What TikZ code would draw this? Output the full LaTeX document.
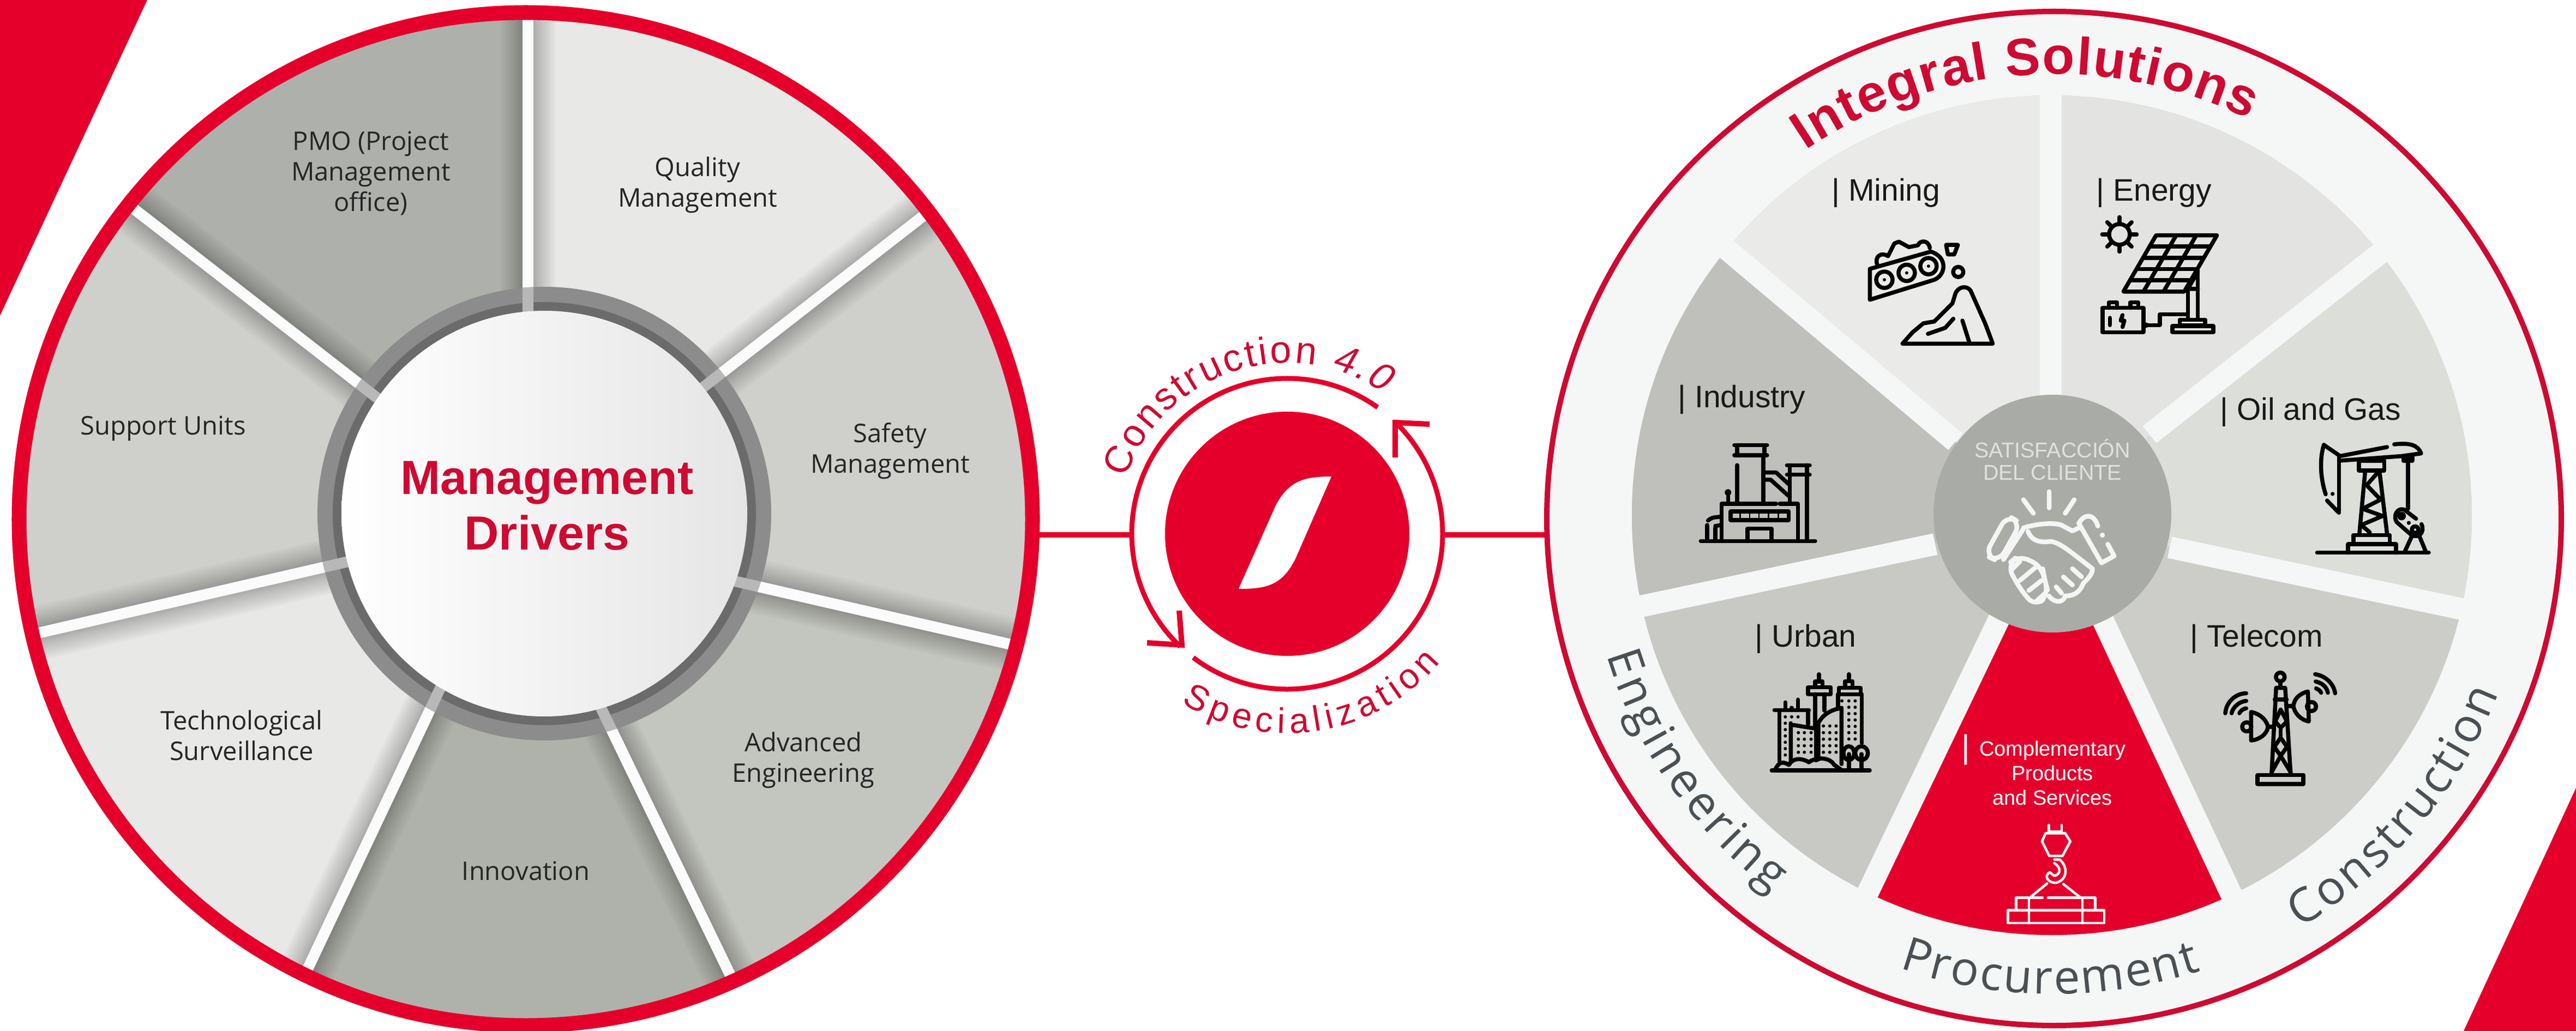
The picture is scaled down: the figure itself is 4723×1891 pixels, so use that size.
\documentclass[tikz,border=0pt]{standalone}
\usepackage{fontspec}
\setmainfont{Liberation Sans}
\newfontfamily\opensans{Open Sans}
\usetikzlibrary{calc,decorations.text}
\definecolor{brand}{HTML}{E4002B}
\definecolor{titlered}{HTML}{CE0A32}
\definecolor{wA}{HTML}{AEB1AB}
\definecolor{wB}{HTML}{E8E9E6}
\definecolor{wC}{HTML}{CFD0CC}
\definecolor{wD}{HTML}{C3C5BF}
\definecolor{wE}{HTML}{AFB2AA}
\definecolor{rimfill}{HTML}{F5F6F6}
\definecolor{mA}{HTML}{EAEBE9}
\definecolor{mB}{HTML}{E3E4E1}
\definecolor{mC}{HTML}{DCDEDA}
\definecolor{mD}{HTML}{CCCDC8}
\definecolor{mE}{HTML}{C8C9C5}
\definecolor{mF}{HTML}{BFC0BB}
\definecolor{hubgray}{HTML}{A9ACA6}
\definecolor{darktext}{HTML}{4A5054}
\tikzset{
  drvlabel/.style={font=\opensans\fontsize{13.4}{15.9}\selectfont,text=black!85,align=center,inner sep=0pt},
  seclabel/.style={font=\fontsize{16.2}{18}\selectfont,text=black!90,anchor=west,inner sep=0pt},
  iconzone/.style={shift={#1},x=.003333cm,y=-.003333cm},
  iconblack/.style={draw=black,line width=.075cm,line join=round,line cap=round,fill=none},
  iconthin/.style={draw=white,line width=.045cm,line join=round,line cap=round,fill=none},
  iconhand/.style={draw=white!92!gray,line width=.085cm,line join=round,line cap=round,fill=none},
}
\begin{document}
\begin{tikzpicture}[x=.01cm,y=-.01cm]
\useasboundingbox (0,0) rectangle (4723,1891);
\fill[white] (0,0) rectangle (4723,1891);
% corners
\fill[brand] (0,0) -- (270,0) -- (0,579) -- cycle;
\fill[brand] (4723,1445) -- (4723,1891) -- (4517,1891) -- cycle;
% left wheel
\coordinate (H) at (998,942);
\coordinate (W) at (964,952);
\coordinate (a1) at (968,567);  \coordinate (b1) at (968,36);
\coordinate (a2) at (1318,688); \coordinate (b2) at (1698,392);
\coordinate (a3) at (1356,1068);\coordinate (b3) at (1853,1182);
\coordinate (a4) at (1107,1309);\coordinate (b4) at (1343,1797);
\coordinate (a5) at (802,1273); \coordinate (b5) at (566,1773);
\coordinate (a6) at (634,1031); \coordinate (b6) at (75,1160);
\coordinate (a7) at (684,724);  \coordinate (b7) at (257,392);
\begin{scope}
\clip (W) circle (925);
\fill[wC] (W) circle (925);
\fill[wB] (H) -- (a1) -- ($(a1)!1.3!(b1)$) -- (2100,-200) -- ($(a2)!1.3!(b2)$) -- (a2) -- cycle;
\fill[wC] (H) -- (a2) -- ($(a2)!1.3!(b2)$) -- (2400,700) -- ($(a3)!1.3!(b3)$) -- (a3) -- cycle;
\fill[wD] (H) -- (a3) -- ($(a3)!1.3!(b3)$) -- (1800,2300) -- ($(a4)!1.3!(b4)$) -- (a4) -- cycle;
\fill[wE] (H) -- (a4) -- ($(a4)!1.3!(b4)$) -- (964,2500) -- ($(a5)!1.3!(b5)$) -- (a5) -- cycle;
\fill[wB] (H) -- (a5) -- ($(a5)!1.3!(b5)$) -- (-400,2000) -- ($(a6)!1.3!(b6)$) -- (a6) -- cycle;
\fill[wC] (H) -- (a6) -- ($(a6)!1.3!(b6)$) -- (-400,400) -- ($(a7)!1.3!(b7)$) -- (a7) -- cycle;
\fill[wA] (H) -- (a7) -- ($(a7)!1.3!(b7)$) -- (300,-500) -- ($(a1)!1.3!(b1)$) -- (a1) -- cycle;
\foreach \i in {1,...,7}{
  \foreach \w in {1.0,.92,.84,.76,.68,.60,.52,.45,.38,.32,.27}{
    \draw[black,opacity=.022,line width=\w cm] ($(a\i)!-.1!(b\i)$) -- ($(a\i)!1.2!(b\i)$);
  }
  \draw[white!97!gray,line width=.2cm] (a\i) -- ($(a\i)!1.2!(b\i)$);
}
\end{scope}
\draw[brand,line width=.27cm] (W) circle (929);
% ring
\fill[black!45] (H) circle (416);
\draw[black!58,line width=.16cm] (H) circle (380);
\begin{scope}
\clip (H) circle (416);
\foreach \i in {1,...,7}{
  \draw[black!28,line width=.2cm] (a\i) -- ($(a\i)!-.2!(b\i)$) (a\i) -- ($(a\i)!.1!(b\i)$);
}
\end{scope}
\shade[left color=white,right color=black!10] (H) circle (372);
\node[font=\bfseries\fontsize{25}{29}\selectfont,text=titlered,align=center,inner sep=0pt] (lefttitle) at (1003,928) {Management\\Drivers};
\node[drvlabel] (lPMO) at (680,318) {PMO (Project\\Management\\office)};
\node[drvlabel] (lQual) at (1279,339) {Quality\\Management};
\node[drvlabel] (lSafe) at (1632,827) {Safety\\Management};
\node[drvlabel] (lAdv) at (1473,1394) {Advanced\\Engineering};
\node[drvlabel] (lInno) at (964,1597) {Innovation};
\node[drvlabel] (lTech) at (443,1349) {Technological\\Surveillance};
\node[drvlabel] (lSupp) at (299,786) {Support Units};
% centre emblem
\coordinate (E) at (2360,979);
\coordinate (linkA) at (1905,981);
\coordinate (linkB) at (2076,981);
\coordinate (linkC) at (2645,981);
\coordinate (linkD) at (2837,981);
\draw[brand,line width=.1cm] (linkA) -- (linkB);
\draw[brand,line width=.1cm] (linkC) -- (linkD);
\fill[brand] (E) circle (224);
\fill[white] (2271,1080) -- (2340,925) .. controls (2365,880) and (2395,874) .. (2441,874)
  -- (2375,1025) .. controls (2350,1075) and (2320,1080) .. (2271,1080) -- cycle;
\draw[brand,line width=.09cm] ([shift={(-54.4:285)}]E) arc (-54.4:-226.6:285);
\draw[brand,line width=.09cm] ([shift={(-232.8:285)}]E) arc (-232.8:-405.9:285);
\draw[brand,line width=.1cm,miter limit=4] (2621,778) -- (2558,775) -- (2558,839);
\draw[brand,line width=.1cm,miter limit=4] (2103,1179) -- (2167,1183) -- (2162,1120);
\path[decorate,decoration={text along path,text align=fit to path,text color=titlered,
  text={|\fontsize{20}{20}\selectfont|Construction |\fontsize{20}{20}\selectfont\addfontfeature{FakeSlant=0.2}|4.0||}}]
  ([shift={(-161:313)}]E) arc (-161:-56:313);
\path[decorate,decoration={text along path,text align=fit to path,text color=titlered,
  text={|\fontsize{18.5}{18.5}\selectfont|Specialization}}]
  ([shift={(-238:366)}]E) arc (-238:-320:366);
% right wheel
\coordinate (R) at (3766,951);
\coordinate (Q) at (3762,945);
\coordinate (G) at (3763,942);
\fill[rimfill] (R) circle (930);
\draw[titlered,line width=.1cm] (R) circle (930);
\coordinate (c1) at (3760,800); \coordinate (d1) at (3760,150);
\coordinate (c2) at (3941,797); \coordinate (d2) at (4358,469);
\coordinate (c3) at (3978,1004);\coordinate (d3) at (4518,1118);
\coordinate (c4) at (3855,1136);\coordinate (d4) at (4088,1634);
\coordinate (c5) at (3665,1136);\coordinate (d5) at (3426,1634);
\coordinate (c6) at (3548,998); \coordinate (d6) at (3009,1112);
\coordinate (c7) at (3585,810); \coordinate (d7) at (3168,459);
\begin{scope}
\clip (Q) circle (770);
\fill[mE] (Q) circle (770);
\fill[mB] (G) -- (c1) -- ($(c1)!1.3!(d1)$) -- (4800,-200) -- ($(c2)!1.3!(d2)$) -- (c2) -- cycle;
\fill[mC] (G) -- (c2) -- ($(c2)!1.3!(d2)$) -- (5000,700) -- ($(c3)!1.3!(d3)$) -- (c3) -- cycle;
\fill[mD] (G) -- (c3) -- ($(c3)!1.3!(d3)$) -- (5000,2200) -- ($(c4)!1.3!(d4)$) -- (c4) -- cycle;
\fill[brand] (G) -- (c4) -- ($(c4)!1.3!(d4)$) -- (3760,2400) -- ($(c5)!1.3!(d5)$) -- (c5) -- cycle;
\fill[mE] (G) -- (c5) -- ($(c5)!1.3!(d5)$) -- (2600,2200) -- ($(c6)!1.3!(d6)$) -- (c6) -- cycle;
\fill[mF] (G) -- (c6) -- ($(c6)!1.3!(d6)$) -- (2500,500) -- ($(c7)!1.3!(d7)$) -- (c7) -- cycle;
\fill[mA] (G) -- (c7) -- ($(c7)!1.3!(d7)$) -- (2900,-400) -- ($(c1)!1.3!(d1)$) -- (c1) -- cycle;
\end{scope}
\foreach \i in {1,...,7}{
  \draw[rimfill,line width=.4cm] (c\i) -- ($(c\i)!1.05!(d\i)$);
}
\fill[hubgray] (G) circle (218);
\node[font=\fontsize{11.2}{11.8}\selectfont,text=black!12,align=center,inner sep=0pt] (hubtext) at (3763,843) {SATISFACCIÓN\\DEL CLIENTE};
% curved labels
\path[decorate,decoration={text along path,text align=fit to path,text color=titlered,
  text={|\bfseries\fontsize{27.5}{27.5}\selectfont|Integral Solutions}}]
  ([shift={(-124:815)}]R) arc (-124:-64:815);
\path[decorate,decoration={text along path,text align=fit to path,text color=darktext,
  text={|\opensans\fontsize{24.5}{24.5}\selectfont|Engineering}}]
  ([shift={(-197:858)}]R) arc (-197:-233:858);
\path[decorate,decoration={text along path,text align=fit to path,text color=darktext,
  text={|\opensans\fontsize{24.5}{24.5}\selectfont|Procurement}}]
  ([shift={(-251:872)}]R) arc (-251:-288:872);
\path[decorate,decoration={text along path,text align=fit to path,text color=darktext,
  text={|\opensans\fontsize{24.5}{24.5}\selectfont|Construction}}]
  ([shift={(-301:876)}]R) arc (-301:-338.5:876);
% sector labels
\node[seclabel] (sMining) at (3358,354) {| Mining};
\node[seclabel] (sEnergy) at (3843,354) {| Energy};
\node[seclabel] (sIndustry) at (3076,733) {| Industry};
\node[seclabel] (sOil) at (4070,756) {| Oil and Gas};
\node[seclabel] (sUrban) at (3217,1172) {| Urban};
\node[seclabel] (sTelecom) at (4015,1172) {| Telecom};
\node[font=\fontsize{10.8}{12.8}\selectfont,text=white,align=center,inner sep=0pt] (sCompl) at (3763,1418) {Complementary\\Products\\and Services};
\node[font=\fontsize{17}{17}\selectfont,text=white,inner sep=0pt] (sBar) at (3604,1375) {|};
% mining icon
\begin{scope}[iconzone={(3400,390)}]
\draw[iconblack] (85,310) -- (85,480) -- (440,370) .. controls (510,340) and (510,240) .. (420,215) -- cycle;
\foreach \x/\y in {165/370,288/332,408/295}{
  \draw[iconblack] (\x,\y) circle (45);
  \fill (\x,\y) circle (9);
}
\draw[iconblack] (125,285) .. controls (110,240) and (150,215) .. (185,240) -- (220,170) -- (245,160) -- (300,190) -- (350,180) .. controls (360,150) and (410,150) .. (415,195);
\draw[iconblack] (505,178) -- (570,178) -- (550,230) -- (515,230) -- cycle;
\draw[iconblack] (572,327) circle (28);
\draw[iconblack] (265,722) -- (762,722) -- (720,610) -- (680,520) -- (640,430) .. controls (620,400) and (570,405) .. (555,450) -- (540,500) -- (480,560) -- (440,600) -- (380,610) -- (320,660) -- cycle;
\draw[iconblack] (405,668) -- (500,635) -- (545,585);
\draw[iconblack] (595,595) -- (635,722);
\end{scope}
% energy icon
\begin{scope}[iconzone={(3830,385)}]
\coordinate (pa) at (370,140); \coordinate (pb) at (705,140);
\coordinate (pc) at (525,450); \coordinate (pd) at (190,450);
\draw[iconblack] (168,135) circle (57);
\foreach \a in {0,45,...,315}{
  \draw[iconblack] ([shift={(\a:60)}]168,135) -- ([shift={(\a:95)}]168,135);
}
\draw[iconblack] (pa) -- (pb) -- (pc) -- (pd) -- cycle;
\foreach \t in {.2,.4,.6,.8}{ \draw[iconblack] ($(pa)!\t!(pd)$) -- ($(pb)!\t!(pc)$); }
\foreach \t in {.33,.66}{ \draw[iconblack] ($(pa)!\t!(pb)$) -- ($(pd)!\t!(pc)$); }
\draw[iconblack] (545,450) -- (545,600) (600,330) -- (600,600);
\draw[iconblack] (600,340) -- (545,435) -- (600,435);
\draw[iconblack] (500,605) rectangle (640,635);
\draw[iconblack] (460,640) rectangle (685,675);
\draw[iconblack] (75,540) rectangle (300,675);
\draw[iconblack] (110,540) -- (110,510) -- (155,510) -- (155,540);
\draw[iconblack] (228,540) -- (228,510) -- (272,510) -- (272,540);
\draw[iconblack] (115,595) -- (115,635);
\draw[iconblack] (185,580) -- (175,610) -- (195,610) -- (185,645);
\draw[iconblack] (315,635) -- (390,635) -- (390,575) -- (545,575);
\fill (315,635) circle (15);
\end{scope}
% industry icon
\begin{scope}[iconzone={(3100,800)}]
\draw[iconblack] (55,578) -- (685,578);
\draw[iconblack] (170,578) -- (170,372) -- (470,372) (490,372) -- (590,372) -- (590,578);
\draw[iconblack] (220,415) rectangle (540,462);
\foreach \x in {272,324,376,428,482}{ \fill (\x-4,425) rectangle (\x+4,452); }
\draw[iconblack] (312,578) -- (312,510) -- (445,510) -- (445,578);
\draw[iconblack] (255,160) -- (255,372) (400,105) -- (400,372);
\draw[iconblack] (240,50) -- (420,50) (240,105) -- (420,105) (255,50) -- (255,105) (405,50) -- (405,105);
\draw[iconblack] (545,215) -- (545,372) (640,215) -- (640,578);
\draw[iconblack] (530,160) -- (655,160) (530,212) -- (655,212) (545,160) -- (545,212) (640,160) -- (640,212);
\draw[iconblack] (405,200) -- (470,200) -- (545,270);
\draw[iconblack] (405,240) -- (440,240) -- (545,335);
\draw[iconblack] (205,372) -- (205,320);
\fill (205,310) circle (18);
\draw[iconblack] (90,578) -- (90,490) (135,578) -- (135,505);
\draw[iconblack] (95,465) .. controls (110,450) and (130,445) .. (165,445);
\draw[iconblack] (135,495) -- (165,490);
\end{scope}
% oil icon
\begin{scope}[iconzone={(4240,800)}]
\draw[iconblack] (25,642) -- (640,642);
\draw[iconblack] (195,642) -- (195,595) -- (460,595) -- (460,642);
\draw[iconblack] (225,595) -- (225,545) -- (425,545) -- (425,595);
\draw[iconblack] (258,535) -- (290,190) (410,535) -- (368,190);
\draw[iconblack] (355,205) -- (298,270) -- (375,350) -- (275,400) -- (385,440) -- (268,490) -- (315,530);
\draw[iconblack] (255,135) rectangle (395,190);
\draw[iconblack] (150,110) -- (410,60);
\draw[iconblack] (150,135) -- (490,110) -- (598,95) .. controls (580,50) and (540,35) .. (450,45);
\draw[iconblack] (145,105) -- (145,420);
\draw[iconblack] (62,48) -- (145,105);
\draw[iconblack] (62,48) .. controls (40,120) and (40,220) .. (72,320);
\draw[iconblack] (80,355) -- (145,422);
\fill (110,318) circle (11);
\draw[iconblack] (525,120) -- (525,400);
\draw[iconblack] (500,115) rectangle (550,135);
\draw[iconblack] (570,455) -- (505,405) .. controls (465,390) and (440,445) .. (465,475) -- (545,545) .. controls (585,565) and (620,530) .. (600,485);
\fill (490,440) circle (24);
\fill (530,478) circle (11);
\draw[iconblack] (565,515) circle (18);
\draw[iconblack] (510,632) -- (545,555) (622,632) -- (590,555);
\end{scope}
% urban icon
\begin{scope}[iconzone={(3220,1220)}]
\draw[iconblack] (85,580) -- (625,580);
\draw[iconblack] (100,248) -- (290,248) (160,248) -- (160,205) (195,248) -- (195,235) (230,248) -- (230,190);
\draw[iconblack] (128,248) -- (128,530) (285,248) -- (285,325);
\draw[iconblack] (190,320) -- (190,535) (205,330) -- (330,350) -- (330,525);
\draw[iconblack] (342,520) -- (342,320) .. controls (370,265) and (420,245) .. (470,235) -- (470,545);
\draw[iconblack] (325,345) -- (325,160) (375,160) -- (375,250);
\draw[iconblack] (285,122) rectangle (410,160);
\draw[iconblack] (325,90) rectangle (365,122);
\draw[iconblack] (345,50) -- (345,90);
\draw[iconblack] (455,125) rectangle (575,160);
\draw[iconblack] (450,160) -- (450,240) (582,160) -- (582,430);
\draw[iconblack] (490,88) rectangle (530,125);
\draw[iconblack] (510,50) -- (510,88);
\draw[iconblack] (510,485) ellipse (30 and 38);
\draw[iconblack] (580,485) ellipse (35 and 38);
\draw[iconblack] (510,490) -- (510,580) (580,490) -- (580,580);
\draw[iconblack] (105,575) .. controls (125,530) and (150,530) .. (180,550) .. controls (200,510) and (250,510) .. (290,535) .. controls (320,510) and (400,500) .. (430,550) -- (470,578);
\foreach \y in {285,320,355,390,425,460,495}{ \fill (160,\y) circle (9); }
\fill (195,285) circle (9); \fill (230,285) circle (9);
\foreach \x in {232,265,302}\foreach \y in {372,408,444,480}{ \fill (\x,\y) circle (9); }
\foreach \x in {370,405,440}\foreach \y in {335,372,408,444,480}{ \fill (\x,\y) circle (9); }
\foreach \x in {510,545}\foreach \y in {197,232,267,302,337,372,407}{ \fill (\x,\y) circle (9); }
\fill (472,197) circle (9);
\end{scope}
% telecom icon
\begin{scope}[iconzone={(4050,1220)}]
\draw[iconblack] (345,600) -- (370,125) -- (420,125) -- (450,600);
\draw[iconblack] (393,65) circle (24);
\draw[iconblack] (393,90) -- (393,125);
\draw[iconblack] (362,190) -- (428,190);
\draw[iconblack] (395,245) -- (365,310) -- (395,345) -- (430,310) -- cycle;
\draw[iconblack] (395,400) -- (360,450) -- (395,500) -- (430,450) -- cycle;
\draw[iconblack] (395,500) -- (345,590) (395,500) -- (450,590);
\draw[iconblack] (395,345) -- (395,400);
\draw[iconblack] (268,605) rectangle (520,655);
\draw[iconblack] (545,145) .. controls (490,160) and (470,190) .. (465,225) .. controls (470,260) and (500,300) .. (550,310) -- cycle;
\draw[iconblack] (565,228) circle (25);
\draw[iconblack] (430,225) -- (465,225);
\draw[iconblack] (232,258) .. controls (290,270) and (320,310) .. (325,340) .. controls (320,380) and (280,410) .. (232,415) -- cycle;
\draw[iconblack] (208,340) circle (25);
\draw[iconblack] (325,340) -- (345,340);
\draw[iconblack] (585,50) .. controls (650,60) and (690,110) .. (695,155);
\draw[iconblack] (588,90) .. controls (630,100) and (650,125) .. (655,152);
\draw[iconblack] (590,128) .. controls (605,135) and (615,142) .. (618,152);
\draw[iconblack] (205,155) .. controls (150,155) and (95,200) .. (90,265);
\draw[iconblack] (205,197) .. controls (165,200) and (130,235) .. (125,265);
\draw[iconblack] (205,238) .. controls (185,240) and (172,255) .. (168,265);
\end{scope}
% crane icon
\begin{scope}[iconzone={(3660,1500)}]
\draw[iconthin] (290,40) -- (290,75) -- (360,75) -- (360,40);
\draw[iconthin] (272,85) -- (380,85) -- (408,130) -- (365,210) -- (292,210) -- (252,130) -- cycle;
\draw[iconthin] (320,230) -- (350,230) .. controls (395,270) and (395,340) .. (330,358) .. controls (285,360) and (260,320) .. (295,300) -- (320,320) .. controls (360,310) and (355,270) .. (320,250);
\draw[iconthin] (280,362) -- (185,440) (370,365) -- (465,440);
\draw[iconthin] (110,505) -- (110,440) -- (255,440) (285,440) -- (545,440) -- (545,505);
\draw[iconthin] (65,510) rectangle (595,580);
\draw[iconthin] (180,440) -- (180,580) (475,440) -- (475,580);
\end{scope}
% handshake icon
\begin{scope}[iconzone={(3620,880)}]
\draw[iconhand] (270,110) -- (325,185) (412,65) -- (412,155) (550,110) -- (500,185);
\draw[iconhand,rounded corners=.2cm] (180,195) -- (255,238) -- (135,452) -- (58,415) -- cycle;
\draw[iconhand] (680,255) .. controls (660,190) and (610,180) .. (575,240) -- (700,458) -- (770,420) -- (735,355);
\fill[white!92!gray] (705,305) circle (14);
\draw[iconhand] (270,265) .. controls (350,240) and (440,235) .. (480,250) -- (540,282) -- (575,265);
\draw[iconhand] (295,285) .. controls (320,345) and (370,345) .. (420,340) .. controls (470,345) and (520,390) .. (650,490) .. controls (650,520) and (630,540) .. (600,570) .. controls (580,620) and (550,640) .. (500,640) .. controls (490,680) and (440,680) .. (410,640);
\draw[iconhand] (270,270) -- (160,440);
\draw[iconhand,rounded corners=.2cm] (180,470) -- (245,415) -- (375,480) -- (385,550) -- (410,630) -- (335,700) -- (250,600) -- cycle;
\draw[iconhand] (250,450) -- (205,495) (340,480) -- (250,555) (370,555) -- (300,610) (390,625) -- (340,670);
\draw[iconhand] (490,535) -- (540,580) (540,490) -- (590,535) (450,590) -- (480,625);
\end{scope}
\end{tikzpicture}
\end{document}
